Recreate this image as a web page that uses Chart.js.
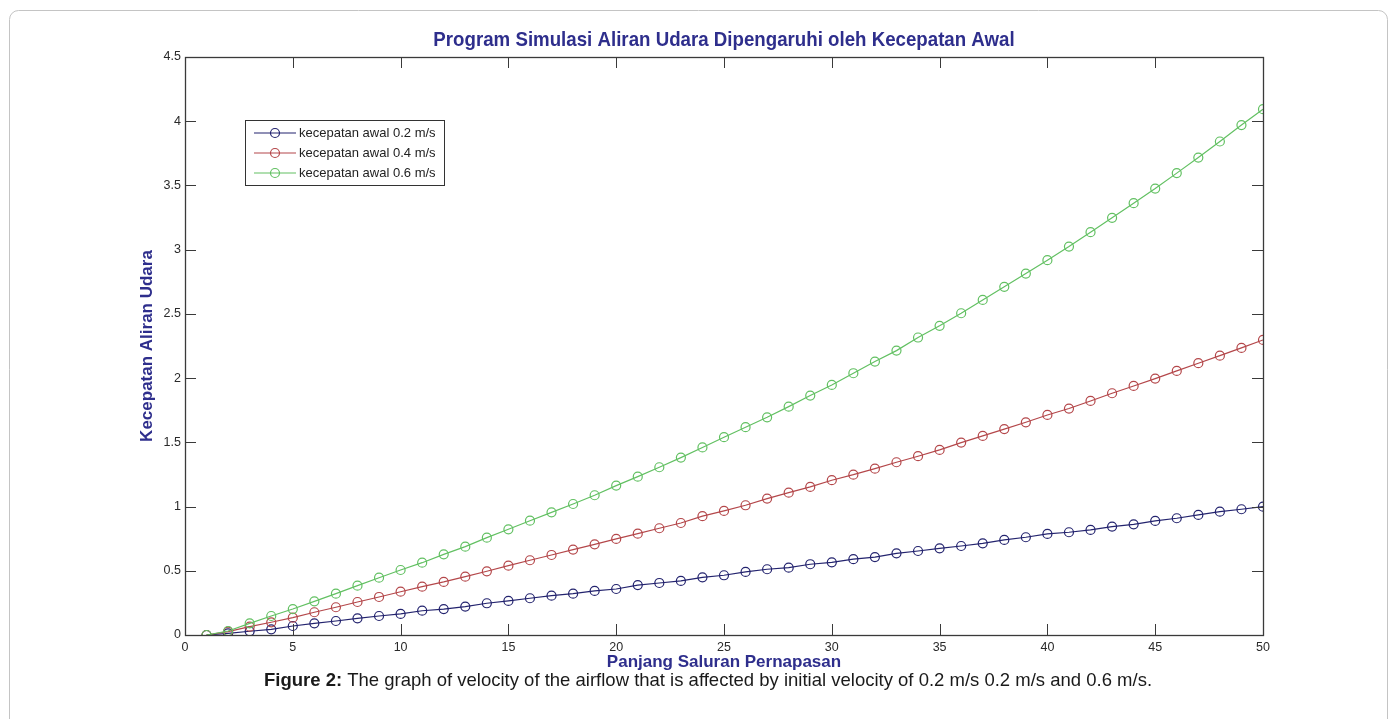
<!DOCTYPE html>
<html>
<head>
<meta charset="utf-8">
<title>Program Simulasi Aliran Udara</title>
<script src="https://cdn.jsdelivr.net/npm/chart.js@4.4.1/dist/chart.umd.min.js"></script>
<style>
  html, body { margin: 0; padding: 0; background: #ffffff; }
  canvas { display: block; }
</style>
</head>
<body>
<canvas id="chart" width="1397" height="719"></canvas>
<script>
// Channel length positions (x) and simulated airflow velocity for three initial velocities
const panjangSaluran = [1, 2, 3, 4, 5, 6, 7, 8, 9, 10,
  11, 12, 13, 14, 15, 16, 17, 18, 19, 20,
  21, 22, 23, 24, 25, 26, 27, 28, 29, 30,
  31, 32, 33, 34, 35, 36, 37, 38, 39, 40,
  41, 42, 43, 44, 45, 46, 47, 48, 49, 50];

const kecepatan02 = [0, 0.013, 0.029, 0.044, 0.070, 0.091, 0.109, 0.130, 0.148, 0.164,
  0.189, 0.202, 0.221, 0.247, 0.265, 0.286, 0.306, 0.322, 0.343, 0.358,
  0.389, 0.405, 0.421, 0.449, 0.465, 0.491, 0.512, 0.524, 0.551, 0.566,
  0.590, 0.607, 0.636, 0.654, 0.675, 0.693, 0.714, 0.740, 0.761, 0.787,
  0.800, 0.818, 0.844, 0.862, 0.888, 0.909, 0.935, 0.960, 0.979, 0.999];

const kecepatan04 = [0, 0.026, 0.065, 0.099, 0.135, 0.177, 0.216, 0.257, 0.296, 0.337,
  0.376, 0.413, 0.454, 0.496, 0.540, 0.582, 0.623, 0.665, 0.706, 0.748,
  0.789, 0.831, 0.872, 0.925, 0.966, 1.010, 1.062, 1.108, 1.153, 1.205,
  1.248, 1.295, 1.345, 1.392, 1.441, 1.498, 1.550, 1.603, 1.656, 1.713,
  1.763, 1.822, 1.882, 1.939, 1.996, 2.056, 2.116, 2.175, 2.235, 2.297];

const kecepatan06 = [0, 0.031, 0.091, 0.148, 0.202, 0.262, 0.322, 0.384, 0.446, 0.506,
  0.563, 0.628, 0.688, 0.758, 0.823, 0.890, 0.955, 1.020, 1.088, 1.163,
  1.233, 1.306, 1.381, 1.460, 1.540, 1.618, 1.695, 1.778, 1.864, 1.947,
  2.038, 2.129, 2.214, 2.316, 2.407, 2.505, 2.609, 2.711, 2.814, 2.918,
  3.024, 3.136, 3.248, 3.362, 3.476, 3.596, 3.717, 3.842, 3.970, 4.094];

const seriesLabels = ['kecepatan awal 0.2 m/s', 'kecepatan awal 0.4 m/s', 'kecepatan awal 0.6 m/s'];
const seriesColors = ['#23236e', '#b4474a', '#62c062'];

const chartTitle = 'Program Simulasi Aliran Udara Dipengaruhi oleh Kecepatan Awal';
const xAxisTitle = 'Panjang Saluran Pernapasan';
const yAxisTitle = 'Kecepatan Aliran Udara';
const captionBold = 'Figure 2:';
const captionText = ' The graph of velocity of the airflow that is affected by initial velocity of 0.2 m/s 0.2 m/s and 0.6 m/s.';

const labelBlue = '#2e2e8c';
const TICK_LEN = 11;

function toPoints(ys) {
  return panjangSaluran.map((x, i) => ({ x: x, y: ys[i] }));
}

function makeDataset(label, ys, color, order) {
  return {
    label: label,
    data: toPoints(ys),
    borderColor: color,
    backgroundColor: 'rgba(0,0,0,0)',
    borderWidth: 1.2,
    pointRadius: 4.5,
    pointBorderWidth: 1.2,
    pointBorderColor: color,
    pointBackgroundColor: 'rgba(0,0,0,0)',
    pointStyle: 'circle',
    tension: 0,
    order: order
  };
}

// Page frame, axes box with inward ticks, legend, title and caption
const decorations = {
  id: 'decorations',
  beforeDraw(chart) {
    const ctx = chart.ctx;
    ctx.save();
    ctx.fillStyle = '#ffffff';
    ctx.fillRect(0, 0, chart.width, chart.height);
    // rounded page frame
    ctx.strokeStyle = '#c4c4c4';
    ctx.lineWidth = 1;
    ctx.beginPath();
    ctx.roundRect(9.5, 10.5, 1378, 760, 9);
    ctx.stroke();
    ctx.restore();
  },
  afterDatasetsDraw(chart) {
    const ctx = chart.ctx;
    const a = chart.chartArea;
    const xs = chart.scales.x;
    const ys = chart.scales.y;
    ctx.save();
    ctx.strokeStyle = '#3a3a3a';
    ctx.lineWidth = 1;
    ctx.beginPath();
    xs.ticks.forEach(t => {
      const px = Math.round(xs.getPixelForValue(t.value)) + 0.5;
      ctx.moveTo(px, a.bottom); ctx.lineTo(px, a.bottom - TICK_LEN);
      ctx.moveTo(px, a.top); ctx.lineTo(px, a.top + TICK_LEN);
    });
    ys.ticks.forEach(t => {
      const py = Math.round(ys.getPixelForValue(t.value)) + 0.5;
      ctx.moveTo(a.left, py); ctx.lineTo(a.left + TICK_LEN, py);
      ctx.moveTo(a.right, py); ctx.lineTo(a.right - TICK_LEN, py);
    });
    ctx.stroke();
    ctx.lineWidth = 1.3;
    ctx.strokeRect(Math.round(a.left) + 0.5, Math.round(a.top) + 0.5,
      Math.round(a.right - a.left), Math.round(a.bottom - a.top));

    // legend box
    const lx = 245.5, ly = 120.5, lw = 199, lh = 65;
    ctx.fillStyle = '#ffffff';
    ctx.fillRect(lx, ly, lw, lh);
    ctx.strokeStyle = '#333333';
    ctx.lineWidth = 1;
    ctx.strokeRect(lx, ly, lw, lh);
    ctx.font = '13px "Liberation Sans", Arial, sans-serif';
    ctx.textBaseline = 'middle';
    ctx.textAlign = 'left';
    chart.data.datasets.forEach((ds, i) => {
      const cy = 133 + i * 20;
      ctx.strokeStyle = ds.borderColor;
      ctx.lineWidth = 1.2;
      ctx.beginPath();
      ctx.moveTo(254, cy); ctx.lineTo(296, cy);
      ctx.stroke();
      ctx.beginPath();
      ctx.arc(275, cy, 4.5, 0, Math.PI * 2);
      ctx.stroke();
      ctx.fillStyle = '#222222';
      ctx.fillText(ds.label, 299, cy);
    });

    // chart title centred over the plot area, in a condensed bold face
    ctx.fillStyle = labelBlue;
    ctx.textAlign = 'center';
    ctx.textBaseline = 'middle';
    ctx.font = 'bold 21px "Liberation Sans", Arial, sans-serif';
    ctx.save();
    ctx.translate((a.left + a.right) / 2, 40);
    ctx.scale(0.89, 1);
    ctx.fillText(chartTitle, 0, 0);
    ctx.restore();

    // figure caption
    const capSize = 18.5;
    ctx.font = 'bold ' + capSize + 'px "Liberation Sans", Arial, sans-serif';
    const wb = ctx.measureText(captionBold).width;
    ctx.font = capSize + 'px "Liberation Sans", Arial, sans-serif';
    const wt = ctx.measureText(captionText).width;
    const startX = 708 - (wb + wt) / 2;
    ctx.textAlign = 'left';
    ctx.fillStyle = '#1a1a1a';
    ctx.font = 'bold ' + capSize + 'px "Liberation Sans", Arial, sans-serif';
    ctx.fillText(captionBold, startX, 681);
    ctx.font = capSize + 'px "Liberation Sans", Arial, sans-serif';
    ctx.fillText(captionText, startX + wb, 681);
    ctx.restore();
  }
};

new Chart(document.getElementById('chart'), {
  type: 'line',
  data: {
    datasets: [
      makeDataset(seriesLabels[0], kecepatan02, seriesColors[0], 2),
      makeDataset(seriesLabels[1], kecepatan04, seriesColors[1], 1),
      makeDataset(seriesLabels[2], kecepatan06, seriesColors[2], 0)
    ]
  },
  options: {
    responsive: false,
    animation: false,
    devicePixelRatio: 1,
    layout: { padding: { left: 130, top: 57, right: 134, bottom: 46 } },
    plugins: {
      legend: { display: false },
      tooltip: { enabled: false },
      title: { display: false }
    },
    scales: {
      x: {
        type: 'linear',
        min: 0,
        max: 50,
        afterFit(scale) { scale.height = 719 - 635 - 46; },
        ticks: {
          stepSize: 5,
          padding: 5,
          color: '#2a2a2a',
          font: { family: '"Liberation Sans", Arial, sans-serif', size: 12.5 }
        },
        grid: { display: false, drawTicks: false },
        border: { display: false },
        title: {
          display: true,
          text: xAxisTitle,
          color: labelBlue,
          padding: { top: 0, bottom: 0 },
          font: { family: '"Liberation Sans", Arial, sans-serif', size: 17, weight: 'bold' }
        }
      },
      y: {
        type: 'linear',
        min: 0,
        max: 4.5,
        afterFit(scale) { scale.width = 185 - 130; },
        ticks: {
          stepSize: 0.5,
          padding: 4,
          color: '#2a2a2a',
          font: { family: '"Liberation Sans", Arial, sans-serif', size: 12.5 },
          callback: (value) => String(Math.round(value * 10) / 10)
        },
        grid: { display: false, drawTicks: false },
        border: { display: false },
        title: {
          display: true,
          text: yAxisTitle,
          color: labelBlue,
          padding: { top: 7, bottom: 0 },
          font: { family: '"Liberation Sans", Arial, sans-serif', size: 17, weight: 'bold' }
        }
      }
    }
  },
  plugins: [decorations]
});
</script>
</body>
</html>
